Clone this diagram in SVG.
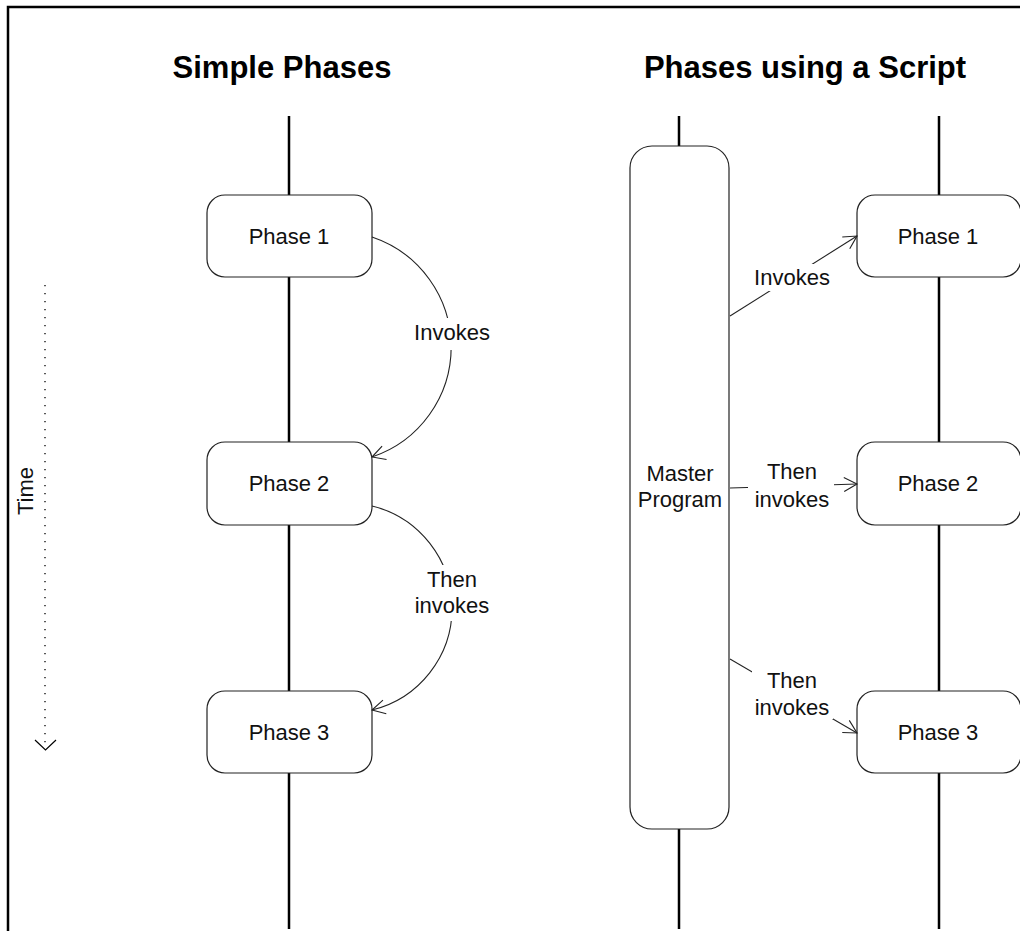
<svg xmlns="http://www.w3.org/2000/svg" width="1020" height="931" viewBox="0 0 1020 931">
<style>
.title{font-family:"Liberation Sans",Arial,sans-serif;font-weight:bold;font-size:31px;fill:#000;text-anchor:middle}
.lbl{font-family:"Liberation Sans",Arial,sans-serif;font-size:22px;fill:#111;text-anchor:middle}
.life{stroke:#000;stroke-width:2.5;fill:none}
.box{fill:#fff;stroke:#222;stroke-width:1.2}
.conn{fill:none;stroke:#222;stroke-width:1.1}
.bg{fill:#fff;stroke:none}
</style>
<defs>
<marker id="open" markerUnits="userSpaceOnUse" markerWidth="30" markerHeight="30" refX="0" refY="0" viewBox="-15 -15 30 30" orient="auto" overflow="visible">
<path d="M-13,-7 L0,0 L-13,7" fill="none" stroke="#222" stroke-width="1.1"/>
</marker>
</defs>
<rect x="0" y="0" width="1020" height="931" fill="#fff"/>
<path d="M8,931 V7 H1020" fill="none" stroke="#000" stroke-width="2.5"/>
<text class="title" x="282" y="78">Simple Phases</text>
<text class="title" x="805" y="78">Phases using a Script</text>
<g id="lifelines">
<line class="life" x1="289" y1="116" x2="289" y2="929"/>
<line class="life" x1="679" y1="116" x2="679" y2="929"/>
<line class="life" x1="939" y1="116" x2="939" y2="929"/>
</g>
<g id="time">
<line x1="45" y1="285" x2="45" y2="746" stroke="#000" stroke-width="1.3" stroke-dasharray="1.3,6.7"/>
<path d="M35,740 L45.5,750 L56,740" fill="none" stroke="#000" stroke-width="1.2"/>
<text class="lbl" transform="translate(33,491) rotate(-90)" x="0" y="0">Time</text>
</g>
<g id="left-phase1"><rect class="box" x="207" y="195" width="165" height="82" rx="18"/><text class="lbl" x="289" y="244">Phase 1</text></g>
<g id="left-phase2"><rect class="box" x="207" y="442" width="165" height="83" rx="18"/><text class="lbl" x="289" y="491">Phase 2</text></g>
<g id="left-phase3"><rect class="box" x="207" y="691" width="165" height="82" rx="18"/><text class="lbl" x="289" y="740">Phase 3</text></g>
<g id="master"><rect class="box" x="630" y="146" width="99" height="683" rx="22"/><text class="lbl" x="680" y="481">Master</text><text class="lbl" x="680" y="507">Program</text></g>
<g id="right-phase1"><rect class="box" x="857" y="195" width="164" height="82" rx="18"/><text class="lbl" x="938" y="244">Phase 1</text></g>
<g id="right-phase2"><rect class="box" x="857" y="442" width="164" height="83" rx="18"/><text class="lbl" x="938" y="491">Phase 2</text></g>
<g id="right-phase3"><rect class="box" x="857" y="691" width="164" height="82" rx="18"/><text class="lbl" x="938" y="740">Phase 3</text></g>
<g id="connectors">
<path class="conn" d="M372,237 A116,116 0 0 1 372,457" marker-end="url(#open)"/>
<rect class="bg" x="412" y="318" width="80" height="32"/>
<text class="lbl" x="452" y="340">Invokes</text>
<path class="conn" d="M372,506 A105,105 0 0 1 372,710" marker-end="url(#open)"/>
<rect class="bg" x="412" y="565" width="80" height="56"/>
<text class="lbl" x="452" y="587">Then</text>
<text class="lbl" x="452" y="613">invokes</text>
<path class="conn" d="M730,316 L857,236" marker-end="url(#open)"/>
<rect class="bg" x="752" y="264" width="81" height="27"/>
<text class="lbl" x="792" y="285">Invokes</text>
<path class="conn" d="M730,488 L857,484" marker-end="url(#open)"/>
<rect class="bg" x="748" y="461" width="86" height="48"/>
<text class="lbl" x="792" y="479">Then</text>
<text class="lbl" x="792" y="507">invokes</text>
<path class="conn" d="M730,659 L857,733" marker-end="url(#open)"/>
<rect class="bg" x="752" y="668" width="81" height="51"/>
<text class="lbl" x="792" y="688">Then</text>
<text class="lbl" x="792" y="715">invokes</text>
</g>
</svg>
